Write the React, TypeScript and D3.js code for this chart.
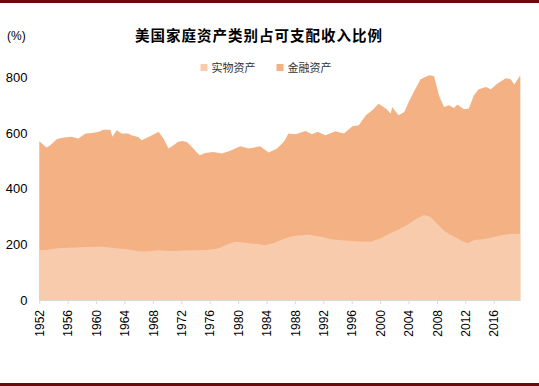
import React, { useRef, useEffect } from "react";
import * as d3 from "d3";

// 实物资产 (real assets), % of disposable income
const realDates = [1952, 1953, 1954.2, 1955.5, 1957, 1958.5, 1960.3, 1961.5, 1963.1, 1964.5, 1965.9, 1967, 1968.8, 1970, 1971.1, 1972.5, 1973.9, 1975.5, 1977.2, 1978.5, 1979.6, 1980.8, 1981.9, 1983, 1983.8, 1985, 1986.4, 1987.5, 1988.5, 1990, 1991, 1992, 1993, 1995, 1997, 1998.6, 2000, 2001.5, 2002.5, 2003.8, 2005.2, 2006.2, 2007.1, 2008, 2009.2, 2010.9, 2012.3, 2013.2, 2015.1, 2017, 2018.5, 2019.75];
const realValues = [179, 180, 185, 187, 189, 190, 191, 190, 185, 182, 175, 174, 179, 177, 176, 178, 179, 180, 185, 200, 209, 207, 203, 200, 197, 205, 219, 228, 232, 234, 230, 226, 218, 214, 210, 209, 221, 241, 252, 269, 293, 305, 299, 275, 245, 221, 203, 215, 221, 233, 238, 237];

// 实物资产 + 金融资产 (top of the stack)
const totalDates = [1952, 1953, 1953.5, 1954.5, 1955.5, 1956.5, 1957.5, 1958.5, 1959.5, 1960.5, 1961, 1962, 1962.3, 1962.9, 1963.6, 1964.5, 1965, 1966, 1966.4, 1967.6, 1968.8, 1969.5, 1970.2, 1970.9, 1971.5, 1972.1, 1972.8, 1973.5, 1974.2, 1974.6, 1975.4, 1976.5, 1977.7, 1978.9, 1980.3, 1981.5, 1983.1, 1984.3, 1985.5, 1986.5, 1987.1, 1988.1, 1989.5, 1990.4, 1991.2, 1992.3, 1993.7, 1994.9, 1996.1, 1997, 1998, 1998.9, 1999.8, 2000.8, 2001.5, 2001.7, 2002.6, 2003.4, 2004.1, 2004.8, 2005.7, 2006.9, 2007.6, 2008.3, 2009, 2009.7, 2010.4, 2010.9, 2011.8, 2012.5, 2013.2, 2013.9, 2014.9, 2015.6, 2016.5, 2017.7, 2018.4, 2018.9, 2019.75];
const totalValues = [570, 548, 555, 578, 584, 586, 580, 598, 600, 605, 612, 612, 586, 610, 598, 598, 592, 585, 574, 588, 604, 580, 544, 556, 568, 571, 568, 550, 530, 520, 528, 532, 526, 536, 552, 544, 552, 530, 544, 570, 598, 595, 607, 595, 604, 592, 606, 598, 624, 628, 664, 682, 705, 688, 670, 693, 664, 675, 715, 750, 793, 807, 805, 735, 693, 700, 690, 702, 685, 688, 735, 757, 765, 757, 777, 797, 793, 774, 807];

const xTicks = [1952, 1956, 1960, 1964, 1968, 1972, 1976, 1980, 1984, 1988, 1992, 1996, 2000, 2004, 2008, 2012, 2016];
const yTicks = [0, 200, 400, 600, 800];
const seriesNames = ["实物资产", "金融资产"];
const seriesColors = ["#F8CBAD", "#F4B183"];

const App = () => {
  const svgRef = useRef(null);
  const width = 539;
  const height = 386;

  useEffect(() => {
    const svg = d3.select(svgRef.current);
    svg.selectAll("*").remove();

    const x = d3.scaleLinear().domain([1952, 2019.75]).range([39.3, 520.3]);
    const y = d3.scaleLinear().domain([0, 800]).range([300, 77.3]);

    // frame lines
    svg.append("rect").attr("x", 0).attr("y", 0).attr("width", width).attr("height", 3).attr("fill", "#6B0A0A");
    svg.append("rect").attr("x", 0).attr("y", 383).attr("width", width).attr("height", 3).attr("fill", "#6B0A0A");

    // areas
    const total = totalDates.map((d, i) => [d, totalValues[i]]);
    const real = realDates.map((d, i) => [d, realValues[i]]);
    const area = d3.area().x(d => x(d[0])).y0(y(0)).y1(d => y(d[1]));
    svg.append("path").attr("d", area(total)).attr("fill", seriesColors[1]);
    svg.append("path").attr("d", area(real)).attr("fill", seriesColors[0]);

    // x axis
    const xAxis = d3.axisBottom(x).tickValues(xTicks).tickFormat(d3.format("d")).tickSize(4).tickSizeOuter(0);
    const gx = svg.append("g").attr("transform", `translate(0, ${y(0)})`).call(xAxis);
    gx.select(".domain").attr("stroke", "#D9D9D9");
    gx.selectAll(".tick line").attr("stroke", "#D9D9D9");
    gx.selectAll(".tick text")
      .attr("transform", "rotate(-90)")
      .attr("text-anchor", "end")
      .attr("x", -10)
      .attr("y", 0)
      .attr("dy", "0.35em")
      .attr("font-family", "Arial, 'Liberation Sans', sans-serif")
      .attr("font-size", 12)
      .attr("fill", "#000");

    // y axis
    const yAxis = d3.axisLeft(y).tickValues(yTicks).tickSize(0).tickPadding(0);
    const gy = svg.append("g").attr("transform", "translate(27.5, 0)").call(yAxis);
    gy.select(".domain").remove();
    gy.selectAll(".tick text")
      .attr("font-family", "Arial, 'Liberation Sans', sans-serif")
      .attr("font-size", 13)
      .attr("fill", "#000");

    // title and unit
    svg.append("text").attr("x", 259).attr("y", 41)
      .attr("text-anchor", "middle")
      .attr("font-family", "'Noto Sans CJK SC', sans-serif")
      .attr("font-weight", 700)
      .attr("font-size", 14.5)
      .attr("letter-spacing", 1)
      .attr("fill", "#000")
      .text("美国家庭资产类别占可支配收入比例");
    svg.append("text").attr("x", 7).attr("y", 40)
      .attr("font-family", "Arial, 'Liberation Sans', sans-serif")
      .attr("font-size", 12)
      .attr("fill", "#000")
      .text("(%)");

    // legend
    const legendX = [200.5, 276.5];
    seriesNames.forEach((name, i) => {
      svg.append("rect").attr("x", legendX[i]).attr("y", 64).attr("width", 7).attr("height", 7).attr("fill", seriesColors[i]);
      svg.append("text").attr("x", legendX[i] + 11).attr("y", 71.5)
        .attr("font-family", "'Noto Sans CJK SC', sans-serif")
        .attr("font-size", 11)
        .attr("fill", "#333")
        .text(name);
    });
  });

  return (
    <div>
      <style>{`body{margin:0}`}</style>
      <svg ref={svgRef} width={width} height={height} style={{ display: "block" }}></svg>
    </div>
  );
};

export default App;
